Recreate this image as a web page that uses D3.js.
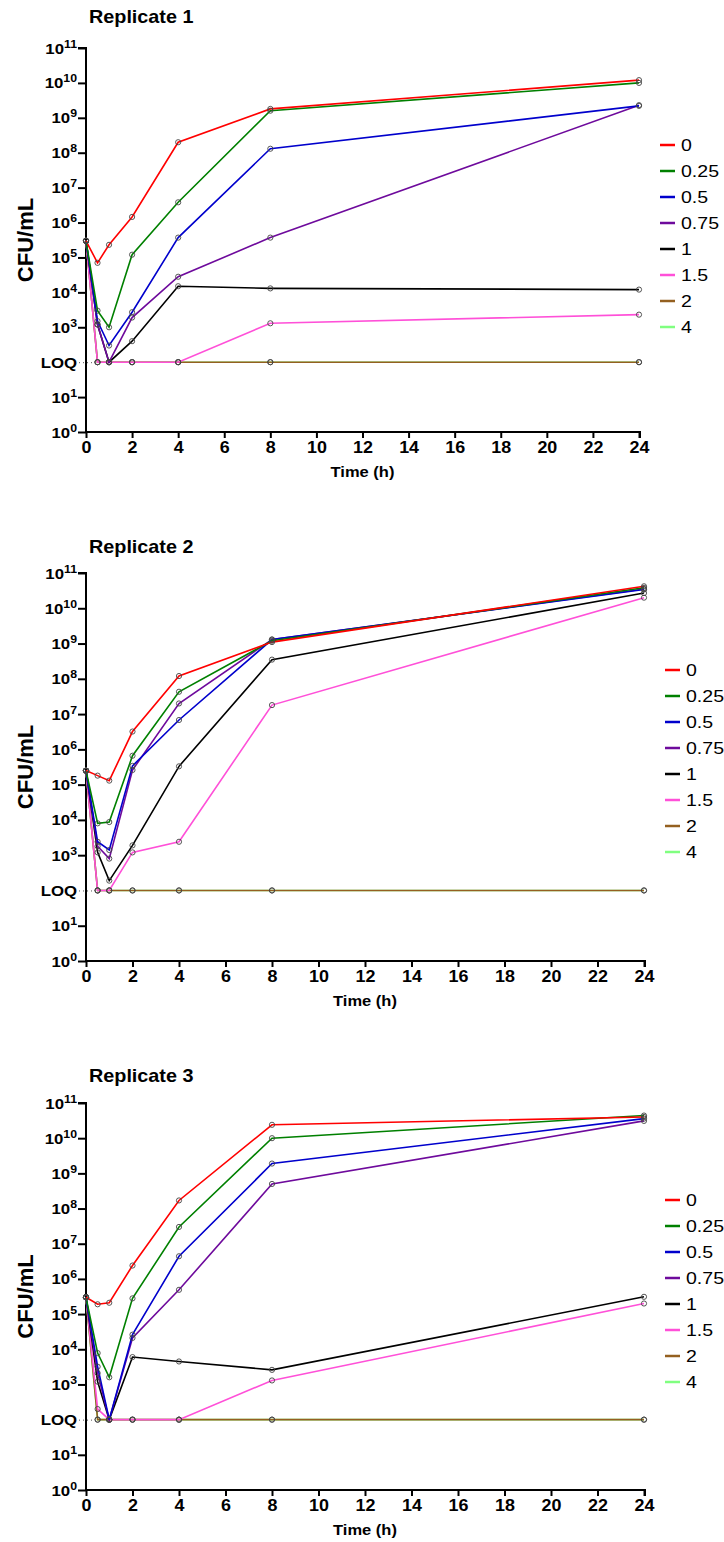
<!DOCTYPE html>
<html>
<head>
<meta charset="utf-8">
<script src="https://cdn.jsdelivr.net/npm/d3@7"></script>
<style>
  body { margin: 0; background: #fff; }
  text { font-family: "Liberation Sans", Arial, sans-serif; }
</style>
</head>
<body>
<div id="chart"></div>
<script>
const LOQ = 100

const times = [0, 0.5, 1, 2, 4, 8, 24]
const concentrations = ["0", "0.25", "0.5", "0.75", "1", "1.5", "2", "4"]
const colors = ["#ff0000", "#008000", "#0000cc", "#6e0a9c", "#000000", "#ff50d8", "#946020", "#80ff80"]
const titles = ["Replicate 1", "Replicate 2", "Replicate 3"]
const yTicks = [1, 10, 100, 1e3, 1e4, 1e5, 1e6, 1e7, 1e8, 1e9, 1e10, 1e11]
const xTicks = [0, 2, 4, 6, 8, 10, 12, 14, 16, 18, 20, 22, 24]

// CFU/mL per concentration, one row per concentration, columns = times
const rep1 = [
	[3e5, 7e4, 2.3e5, 1.45e6, 2e8, 1.8e9, 1.2e10],
	[3e5, 3e3, 1e3, 1.2e5, 3.8e6, 1.6e9, 1.0e10],
	[3e5, 1.5e3, 3e2, 2.7e3, 3.7e5, 1.3e8, 2.2e9],
	[3e5, 1.2e3, 100, 1.9e3, 2.8e4, 3.7e5, 2.3e9],
	[3e5, 1.2e3, 100, 4e2, 1.5e4, 1.3e4, 1.2e4],
	[3e5, 100, 100, 100, 100, 1.3e3, 2.3e3],
	[3e5, 100, 100, 100, 100, 100, 100],
	[3e5, 100, 100, 100, 100, 100, 100]
]
const rep2 = [
	[2.5e5, 1.8e5, 1.3e5, 3.2e6, 1.2e8, 1.1e9, 4.2e10],
	[2.5e5, 8e3, 8.7e3, 6.6e5, 4.3e7, 1.2e9, 3.8e10],
	[2.5e5, 2.4e3, 1.4e3, 3.4e5, 6.8e6, 1.3e9, 3.4e10],
	[2.5e5, 1.8e3, 8e2, 2.6e5, 2e7, 1.3e9, 3.5e10],
	[2.5e5, 1.2e3, 1.9e2, 1.9e3, 3.3e5, 3.5e8, 2.7e10],
	[2.5e5, 100, 100, 1.2e3, 2.4e3, 1.8e7, 2e10],
	[2.5e5, 100, 100, 100, 100, 100, 100],
	[2.5e5, 100, 100, 100, 100, 100, 100]
]
const rep3 = [
	[3e5, 1.9e5, 2.1e5, 2.4e6, 1.7e8, 2.4e10, 4e10],
	[3e5, 7.8e3, 1.6e3, 2.8e5, 3e7, 1e10, 4.4e10],
	[3e5, 3.2e3, 100, 2.6e4, 4.4e6, 1.9e9, 3.6e10],
	[3e5, 2.1e3, 100, 2.1e4, 4.9e5, 5e8, 3.1e10],
	[3e5, 1.2e3, 100, 6e3, 4.5e3, 2.6e3, 3.1e5],
	[3e5, 2e2, 100, 100, 100, 1.3e3, 2e5],
	[3e5, 100, 100, 100, 100, 100, 100],
	[3e5, 100, 100, 100, 100, 100, 100]
]
const replicates = [rep1, rep2, rep3]

// panel layout: plot box in page pixels
const panels = [
	{ top: 48, bottom: 432, left: 86, right: 639, titleY: 23 },
	{ top: 573, bottom: 961, left: 86, right: 644, titleY: 553 },
	{ top: 1103, bottom: 1490, left: 86, right: 644, titleY: 1082 }
]

const svg = d3.select("#chart")
	.append("svg")
		.attr("width", 724)
		.attr("height", 1542)

panels.forEach((p, i) => {
	const g = svg.append("g")
	const data = replicates[i]

	const x = d3.scaleLinear().domain([0, 24]).range([p.left, p.right])
	const y = d3.scaleLog().domain([1, 1e11]).range([p.bottom, p.top])

	// title
	g.append("text")
		.attr("transform", `translate(${p.left + 3}, ${p.titleY}) scale(1.1, 1)`)
		.attr("font-size", "18px")
		.attr("font-weight", "bold")
		.text(titles[i])

	// y label
	g.append("text")
		.attr("transform", `translate(33, ${(p.top + p.bottom) / 2}) rotate(-90)`)
		.attr("text-anchor", "middle")
		.attr("font-size", "22px")
		.attr("font-weight", "bold")
		.text("CFU/mL")

	// x axis
	const xAxis = g.append("g")
		.attr("transform", `translate(0, ${p.bottom})`)
		.call(d3.axisBottom(x).tickValues(xTicks).tickSize(6).tickPadding(4).tickFormat(d3.format("d")))
	xAxis.select(".domain").attr("stroke-width", 2).attr("d", `M${p.left - 1},0H${p.right + 1}V6`)
	xAxis.selectAll(".tick line").attr("stroke-width", 2)
	xAxis.selectAll(".tick text")
		.attr("font-family", "Liberation Sans, Arial, sans-serif")
		.attr("font-size", "16px")
		.attr("font-weight", "bold")
		.attr("fill", "#000")
		.attr("transform", "scale(1.12, 1)")

	g.append("text")
		.attr("transform", `translate(${(p.left + p.right) / 2}, ${p.bottom + 45}) scale(1.1, 1)`)
		.attr("text-anchor", "middle")
		.attr("font-size", "15px")
		.attr("font-weight", "bold")
		.text("Time (h)")

	// y axis
	const yAxis = g.append("g")
		.attr("transform", `translate(${p.left}, 0)`)
		.call(d3.axisLeft(y).tickValues(yTicks).tickSize(8).tickFormat(""))
	yAxis.select(".domain").attr("stroke-width", 2).attr("d", `M-8,${p.top}H0V${p.bottom + 1}`)
	yAxis.selectAll(".tick line")
		.attr("stroke-width", 2)
		.filter(d => d === LOQ)
			.attr("stroke-width", 1)
			.attr("stroke", "#555")
			.attr("stroke-dasharray", "1,3")
			.attr("x1", 6)

	const yLabels = g.append("g")
	yTicks.forEach(t => {
		const txt = yLabels.append("text")
			.attr("transform", `translate(${p.left - 9}, ${y(t) + 5.5}) scale(1.12, 1)`)
			.attr("text-anchor", "end")
			.attr("font-weight", "bold")
		if (t === LOQ) {
			txt.attr("font-size", "15px").text("LOQ")
		} else {
			txt.append("tspan").attr("font-size", "15px").text("10")
			txt.append("tspan")
				.attr("font-size", "11px")
				.attr("dy", -6)
				.text(Math.round(Math.log10(t)))
		}
	})

	// series, last drawn first so "0" sits on top
	const line = d3.line()
		.x((d, j) => x(times[j]))
		.y(d => y(d))

	const order = d3.range(concentrations.length).reverse()
	order.forEach(k => {
		g.append("path")
			.datum(data[k])
			.attr("fill", "none")
			.attr("stroke", colors[k])
			.attr("stroke-width", 1.6)
			.attr("d", line)
	})
	order.forEach(k => {
		g.selectAll(null)
			.data(data[k])
			.enter().append("circle")
				.attr("cx", (d, j) => x(times[j]))
				.attr("cy", d => y(d))
				.attr("r", 2.6)
				.attr("fill", "none")
				.attr("stroke", "#444")
				.attr("stroke-width", 0.9)
	})

	// legend
	const lg = g.append("g")
		.attr("transform", `translate(${p.right + 21}, ${p.top + 97})`)
	concentrations.forEach((c, k) => {
		lg.append("line")
			.attr("x1", 0).attr("x2", 15)
			.attr("y1", k * 26).attr("y2", k * 26)
			.attr("stroke", colors[k])
			.attr("stroke-width", 2.5)
		lg.append("text")
			.attr("transform", `translate(21, ${k * 26 + 6}) scale(1.15, 1)`)
			.attr("font-size", "17px")
			.text(c)
	})
})
</script>
</body>
</html>
